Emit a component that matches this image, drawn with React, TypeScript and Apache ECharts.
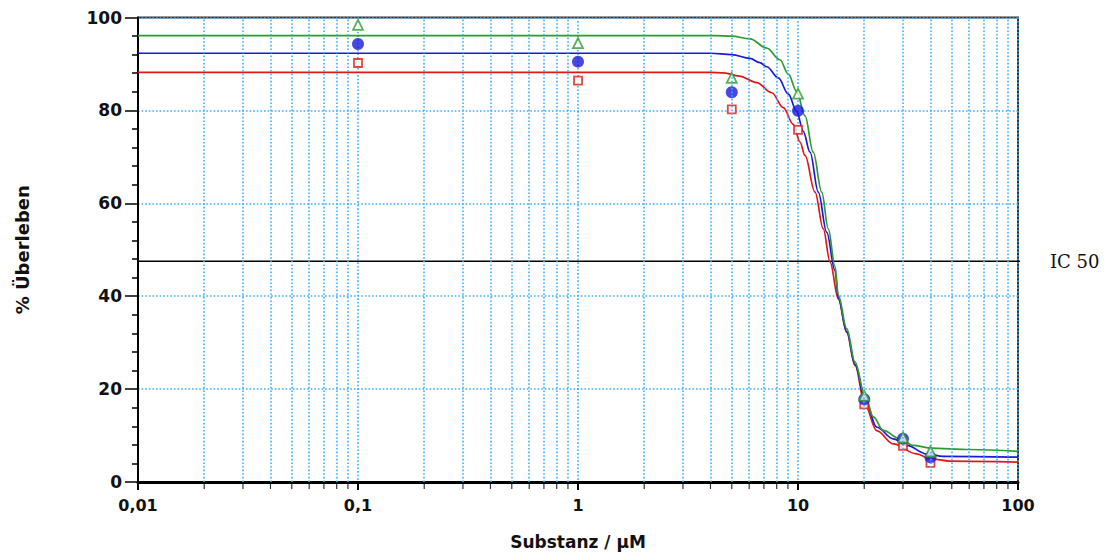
import React, { useEffect, useRef } from "react";
import * as echarts from "echarts";

// ---- data ----
const concentrations = [0.1, 1, 5, 10, 20, 30, 40];
const greenPoints = [98.4, 94.5, 87.0, 83.6, 18.6, 9.6, 6.6];
const bluePoints = [94.3, 90.5, 83.9, 79.9, 17.8, 9.3, 5.3];
const redPoints = [90.2, 86.4, 80.2, 75.8, 16.7, 7.8, 4.1];

const greenCurve: [number, number][] = [
  [0.01, 96.1], [4.2, 96.1], [5.0, 96.0], [6.05, 95.4], [7.21, 93.4], [8.28, 90.9], [9.04, 87.8],
  [9.86, 84.1], [10.76, 78.8], [11.73, 71.0], [12.82, 62.4], [13.73, 54.5], [14.73, 46.4],
  [15.25, 40.2], [16.65, 33.0], [18.16, 25.8], [20.16, 18.6], [22.0, 14.0], [24.4, 11.1],
  [29.1, 9.3], [33.4, 7.9], [39.8, 7.3], [60.5, 7.0], [100, 6.6],
];
const blueCurve: [number, number][] = [
  [0.01, 92.3], [4.0, 92.3], [5.0, 92.0], [6.05, 91.2], [6.7, 90.3], [7.21, 89.4], [8.14, 87.0], [9.04, 83.5],
  [9.86, 79.8], [10.57, 75.5], [11.34, 71.0], [12.37, 62.4], [13.5, 53.8], [14.73, 45.5],
  [15.25, 39.6], [16.65, 32.4], [18.16, 25.3], [20.16, 17.8], [22.79, 11.8], [27.1, 9.3],
  [31.2, 7.9], [38.4, 6.05], [45.8, 5.5], [100, 5.35],
];
const redCurve: [number, number][] = [
  [0.01, 88.2], [4.0, 88.2], [4.6, 88.1], [5.4, 87.4], [6.49, 86.0], [7.6, 83.8], [8.57, 80.6],
  [9.52, 77.0], [10.21, 73.2], [10.76, 70.3], [11.95, 62.4], [13.03, 54.5], [13.98, 47.4],
  [15.25, 39.4], [16.65, 32.2], [18.16, 25.1], [20.16, 16.6], [22.79, 11.06], [27.1, 8.2],
  [34.6, 6.05], [39.8, 5.0], [49.1, 4.5], [100, 4.3],
];

const ic50Value = 47.5;
const ic50Span = [0.01, 116];

const xTickLabels = ["0,01", "0,1", "1", "10", "100"];
const minorXTicks = [
  0.02, 0.03, 0.04, 0.05, 0.06, 0.07, 0.08, 0.09,
  0.2, 0.3, 0.4, 0.5, 0.6, 0.7, 0.8, 0.9,
  2, 3, 4, 5, 6, 7, 8, 9,
  20, 30, 40, 50, 60, 70, 80, 90,
];

const GREEN = "#2f9a2f";
const BLUE = "#1a1ad8";
const RED = "#e01818";
const GRIDBLUE = "#3aaeff";
const TEXT = "#111";

export default function App() {
  const ref = useRef<HTMLDivElement>(null);

  useEffect(() => {
    if (!ref.current) return;
    const chart = echarts.init(ref.current, undefined, { renderer: "svg" });
    const dotted = { color: GRIDBLUE, width: 1.6, type: [1.6, 2] as number[] };

    const option: any = {
      animation: false,
      backgroundColor: "#fff",
      grid: {
        left: 138,
        right: 88,
        top: 17.5,
        bottom: 70,
        show: true,
        borderColor: "#333",
        borderWidth: 2,
        backgroundColor: "transparent",
      },
      xAxis: {
        type: "log",
        logBase: 10,
        min: 0.01,
        max: 100,
        name: "Substanz / µM",
        nameLocation: "middle",
        nameGap: 51,
        nameTextStyle: { fontFamily: "DejaVu Sans", fontWeight: "bold", fontSize: 17, color: TEXT },
        axisLine: { show: true, onZero: false, lineStyle: { color: "#000", width: 3 } },
        axisTick: { show: true, length: 8, lineStyle: { color: "#000", width: 2 } },
        minorTick: { show: false },
        axisLabel: {
          margin: 15,
          fontFamily: "DejaVu Sans",
          fontWeight: "bold",
          fontSize: 16,
          color: TEXT,
          formatter: (v: number) => {
            const i = Math.round(Math.log10(v)) + 2;
            return xTickLabels[i] ?? "";
          },
        },
        splitLine: { show: true, lineStyle: dotted },
      },
      yAxis: {
        type: "value",
        min: 0,
        max: 100,
        interval: 20,
        name: "% Überleben",
        nameLocation: "middle",
        nameRotate: 90,
        nameGap: 107,
        nameTextStyle: { fontFamily: "DejaVu Sans", fontWeight: "bold", fontSize: 18, color: TEXT },
        axisLine: { show: true, lineStyle: { color: "#000", width: 2 } },
        axisTick: { show: true, length: 13, lineStyle: { color: "#000", width: 1.5 } },
        minorTick: { show: true, splitNumber: 5, length: 6, lineStyle: { color: "#000", width: 1.5 } },
        axisLabel: {
          margin: 16,
          fontFamily: "DejaVu Sans",
          fontWeight: "bold",
          fontSize: 17,
          color: TEXT,
        },
        splitLine: { show: true, lineStyle: dotted },
      },
      series: [
        {
          type: "scatter",
          name: "minorTicks",
          data: minorXTicks.map((v) => [v, 0]),
          symbol: "rect",
          symbolSize: [1.2, 6],
          symbolOffset: [0, 4],
          itemStyle: { color: "#000" },
          clip: false,
          silent: true,
          z: 1,
          markLine: {
            silent: true,
            symbol: ["none", "none"],
            label: { show: false },
            lineStyle: dotted,
            data: minorXTicks.map((v) => ({ xAxis: v })),
          },
        },
        {
          type: "line",
          name: "IC 50",
          data: ic50Span.map((x) => [x, ic50Value]),
          showSymbol: false,
          symbol: "none",
          clip: false,
          lineStyle: { color: "#000", width: 1.5 },
          z: 2,
          endLabel: {
            show: true,
            formatter: "IC 50",
            distance: 30,
            fontFamily: "DejaVu Serif",
            fontSize: 18,
            color: TEXT,
          },
        },
        {
          type: "line",
          name: "red fit",
          data: redCurve,
          showSymbol: false,
          smooth: 0.35,
          smoothMonotone: "x",
          lineStyle: { color: RED, width: 1.7 },
          z: 3,
        },
        {
          type: "line",
          name: "blue fit",
          data: blueCurve,
          showSymbol: false,
          smooth: 0.35,
          smoothMonotone: "x",
          lineStyle: { color: BLUE, width: 1.7 },
          z: 3,
        },
        {
          type: "line",
          name: "green fit",
          data: greenCurve,
          showSymbol: false,
          smooth: 0.35,
          smoothMonotone: "x",
          lineStyle: { color: GREEN, width: 1.7 },
          z: 3,
        },
        {
          type: "scatter",
          name: "red",
          data: concentrations.map((c, i) => [c, redPoints[i]]),
          symbol: "rect",
          symbolSize: 8,
          itemStyle: { color: "#fff", borderColor: RED, borderWidth: 1.8 },
          z: 4,
        },
        {
          type: "scatter",
          name: "blue",
          data: concentrations.map((c, i) => [c, bluePoints[i]]),
          symbol: "circle",
          symbolSize: 12,
          itemStyle: { color: BLUE },
          z: 4,
        },
        {
          type: "scatter",
          name: "green",
          data: concentrations.map((c, i) => [c, greenPoints[i]]),
          symbol: "triangle",
          symbolSize: 10,
          itemStyle: { color: "#fff", borderColor: GREEN, borderWidth: 1.8 },
          z: 4,
        },
      ],
    };

    chart.setOption(option);
    return () => chart.dispose();
  }, []);

  return (
    <div
      ref={ref}
      style={{ position: "fixed", left: 0, top: 0, width: 1106, height: 555, background: "#fff" }}
    />
  );
}
